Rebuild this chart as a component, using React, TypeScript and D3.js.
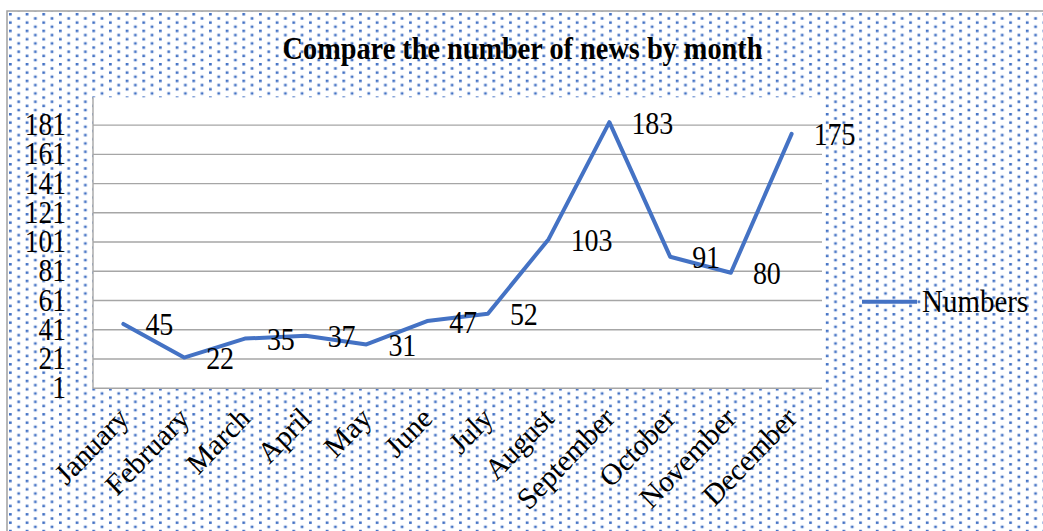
import React from "react";
import * as d3 from "d3";

const months = ["January", "February", "March", "April", "May", "June", "July", "August", "September", "October", "November", "December"];
const numbers = [45, 22, 35, 37, 31, 47, 52, 103, 183, 91, 80, 175];
const yTicks = [1, 21, 41, 61, 81, 101, 121, 141, 161, 181];
const yDomain = [1, 200];
const title = "Compare the number of news by month";
const seriesName = "Numbers";

const W = 1043;
const H = 531;
const plot = { left: 93, right: 822, top: 97.3, bottom: 388.3 };
const BLUE = "#4472C4";
const GRID = "#a6a6a6";
const FONT = '"Liberation Serif", "Times New Roman", serif';
const SY = 1.12;

export default function App() {
  const x = d3.scaleBand<string>().domain(months).range([plot.left, plot.right]);
  const cx = (m: string) => (x(m) as number) + x.bandwidth() / 2;
  const y = d3.scaleLinear().domain(yDomain).range([plot.bottom, plot.top]);
  const pts = months.map((m, i) => [cx(m), y(numbers[i])] as [number, number]);
  const path = d3.line()(pts) || "";
  const p = 16.67;

  return (
    <svg width={W} height={H} style={{ position: "absolute", left: 0, top: 0, display: "block" }} fontFamily={FONT}>
      <defs>
        <pattern id="dots" patternUnits="userSpaceOnUse" x={9} y={13} width={p} height={p}>
          <rect x={0} y={0} width={2.7} height={2.5} fill={BLUE} />
          <rect x={p / 2} y={p / 4} width={2.7} height={2.5} fill={BLUE} />
          <rect x={0} y={p / 2} width={2.7} height={2.5} fill={BLUE} />
          <rect x={p / 2} y={(3 * p) / 4} width={2.7} height={2.5} fill={BLUE} />
        </pattern>
      </defs>
      <rect x={0} y={0} width={W} height={H} fill="#fff" />
      <rect x={7} y={11} width={W + 10} height={H + 10} fill="url(#dots)" stroke="#a0a0a0" strokeWidth={1.5} />
      <rect x={plot.left} y={plot.top} width={plot.right - plot.left} height={plot.bottom - plot.top} fill="#fff" />

      {yTicks.map((t) => (
        <g key={t}>
          {t !== 1 && <line x1={plot.left} x2={plot.right} y1={y(t)} y2={y(t)} stroke={GRID} strokeWidth={1.4} />}
          <text transform={`translate(66,${y(t) + 10}) scale(1,${SY})`} textAnchor="end" fontSize={27.5} fill="#000">
            {t}
          </text>
        </g>
      ))}
      <line x1={plot.left} x2={plot.left} y1={plot.top} y2={plot.bottom} stroke={GRID} strokeWidth={1.4} />
      <line x1={plot.left} x2={plot.right} y1={plot.bottom} y2={plot.bottom} stroke={GRID} strokeWidth={1.4} />

      {months.map((m) => (
        <text key={m} transform={`translate(${cx(m) + 7},${420}) scale(1,1.04) rotate(-45)`} textAnchor="end" fontSize={29} fill="#000">
          {m}
        </text>
      ))}

      <path d={path} fill="none" stroke={BLUE} strokeWidth={4} strokeLinejoin="round" strokeLinecap="round" />

      {months.map((m, i) => (
        <text key={m} transform={`translate(${cx(m) + 22},${y(numbers[i]) + 11.5}) scale(1,${SY})`} fontSize={28} fill="#000">
          {numbers[i]}
        </text>
      ))}

      <text transform={`translate(522.5,59.3) scale(1,${SY})`} textAnchor="middle" fontSize={28.3} fontWeight="bold" fill="#000">
        {title}
      </text>

      <line x1={862} x2={917} y1={301.7} y2={301.7} stroke={BLUE} strokeWidth={4} />
      <text transform={`translate(922,311.7) scale(1,${SY})`} fontSize={29} fill="#000">
        {seriesName}
      </text>
    </svg>
  );
}
